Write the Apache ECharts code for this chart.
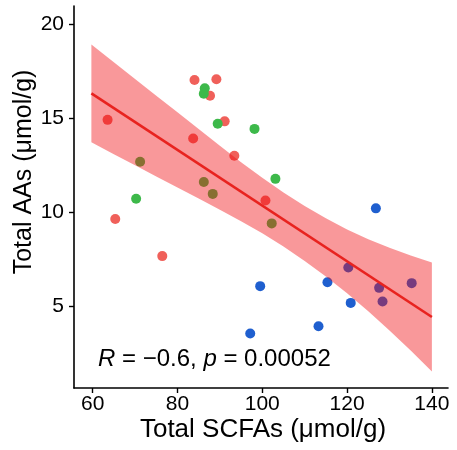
<!DOCTYPE html>
<html><head><meta charset="utf-8">
<script src="https://cdn.jsdelivr.net/npm/echarts@6/dist/echarts.min.js"></script>
<style>html,body{margin:0;padding:0;background:#fff}#c{width:457px;height:450px}</style>
</head><body><div id="c"></div>
<script>
// group 1 (red)
const redX = [63.52, 84.02, 89.18, 87.68, 91.13, 83.70, 93.41, 100.75, 65.33, 76.42];
const redY = [14.90, 17.02, 17.06, 16.18, 14.82, 13.91, 12.99, 10.61, 9.62, 7.65];
// group 2 (green)
const greenX = [86.44, 86.21, 89.49, 98.17, 103.10, 71.19, 86.21, 88.32, 102.23, 70.25];
const greenY = [16.58, 16.29, 14.69, 14.42, 11.76, 12.67, 11.59, 10.96, 9.39, 10.70];
// group 3 (blue)
const blueX = [126.79, 99.51, 115.37, 120.86, 113.26, 97.16, 120.29, 127.56, 135.24, 128.36];
const blueY = [10.19, 6.05, 6.26, 5.16, 3.92, 3.53, 7.04, 5.96, 6.21, 5.23];
// regression line end points
const fitX = [59.7, 140];
const fitY = [16.31, 4.41];
// confidence band
const bandX    = [59.7, 65, 70, 75, 80, 85, 90, 95, 100, 105, 110, 115, 120, 125, 130, 135, 140];
const bandLow  = [13.71, 13.07, 12.48, 11.89, 11.30, 10.71, 10.12, 9.51, 8.86, 8.16, 7.39, 6.56, 5.67, 4.71, 3.69, 2.62, 1.51];
const bandHigh = [18.91, 17.97, 17.08, 16.19, 15.30, 14.41, 13.52, 12.65, 11.82, 11.04, 10.31, 9.66, 9.07, 8.55, 8.09, 7.68, 7.31];
// ticks
const xTicks = [60, 80, 100, 120, 140];
const yTicks = [5, 10, 15, 20];
const xTitle = 'Total SCFAs (μmol/g)';
const yTitle = 'Total AAs (μmol/g)';

const FONT = '"Liberation Sans", Arial, sans-serif';
const zip = (a, b) => a.map((v, i) => [v, b[i]]);

const chart = echarts.init(document.getElementById('c'), null, {renderer: 'canvas'});
const axisCommon = {
  axisLine: {show: true, onZero: false, lineStyle: {color: '#000', width: 1.6}},
  axisTick: {show: true, length: 5, lineStyle: {color: '#000', width: 1.4}},
  splitLine: {show: false},
  axisLabel: {color: '#000', fontSize: 21, fontFamily: FONT}
};
chart.setOption({
  animation: false,
  backgroundColor: '#fff',
  grid: {left: 74, right: 9, top: 6, bottom: 62, outerBoundsMode: 'none'},
  xAxis: Object.assign({}, axisCommon, {
    type: 'value', min: 55.6, max: 143.8,
    axisTick: Object.assign({}, axisCommon.axisTick, {customValues: xTicks}),
    axisLabel: Object.assign({}, axisCommon.axisLabel, {customValues: xTicks, margin: 6})
  }),
  yAxis: Object.assign({}, axisCommon, {
    type: 'value', min: 0.63, max: 20.96,
    axisTick: Object.assign({}, axisCommon.axisTick, {customValues: yTicks}),
    axisLabel: Object.assign({}, axisCommon.axisLabel, {customValues: yTicks, margin: 10})
  }),
  series: [
    {type: 'scatter', data: zip(redX, redY), symbolSize: 10, itemStyle: {color: '#F0605A', opacity: 1}, z: 2},
    {type: 'scatter', data: zip(greenX, greenY), symbolSize: 10, itemStyle: {color: '#3DB94A', opacity: 1}, z: 2},
    {type: 'scatter', data: zip(blueX, blueY), symbolSize: 10, itemStyle: {color: '#1F5FCF', opacity: 1}, z: 2},
    {
      type: 'custom', z: 3, silent: true,
      data: bandX.map((x, i) => [x, bandLow[i], bandHigh[i]]),
      encode: {x: 0, y: [1, 2]},
      renderItem: function (params, api) {
        if (params.dataIndex !== 0) return null;
        const pts = [];
        for (let i = 0; i < bandX.length; i++) pts.push(api.coord([bandX[i], bandHigh[i]]));
        for (let i = bandX.length - 1; i >= 0; i--) pts.push(api.coord([bandX[i], bandLow[i]]));
        return {type: 'polygon', shape: {points: pts}, style: {fill: 'rgba(240,10,15,0.42)'}};
      }
    },
    {type: 'line', data: zip(fitX, fitY), symbol: 'none', z: 4, silent: true,
     lineStyle: {color: '#E8231F', width: 2.6}}
  ],
  graphic: [
    {type: 'text', x: 263, y: 430, style: {text: xTitle, font: '26px ' + FONT, fill: '#000', align: 'center', verticalAlign: 'middle'}},
    {type: 'text', x: 24, y: 172, rotation: Math.PI / 2, style: {text: yTitle, font: '25px ' + FONT, fill: '#000', align: 'center', verticalAlign: 'middle'}},
    {type: 'text', x: 98, y: 359, style: {
      text: '{i|R} = −0.6, {i|p} = 0.00052',
      font: '24px ' + FONT, fill: '#000', align: 'left', verticalAlign: 'middle',
      rich: {i: {fontStyle: 'italic', fontSize: 24, fontFamily: FONT, fill: '#000'}}
    }}
  ]
});
</script>
</body></html>
